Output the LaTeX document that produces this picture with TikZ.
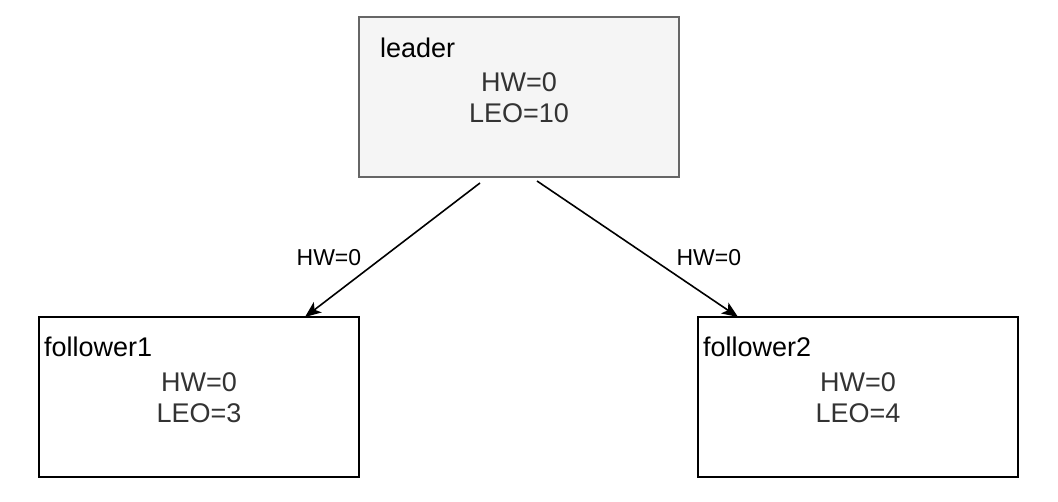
\documentclass[tikz,border=0pt]{standalone}
\usepackage{fontspec}
\setmainfont{Liberation Sans}
\usepackage{xcolor}
\usepackage{tikz}
\usetikzlibrary{arrows.meta,positioning}

\definecolor{leaderfill}{HTML}{F5F5F5}
\definecolor{leaderline}{HTML}{666666}
\definecolor{valtext}{HTML}{333333}

\begin{document}
\begin{tikzpicture}[
    x=1pt, y=-1pt,
    box/.style={draw, line width=2pt, outer sep=0pt, minimum width=320pt, minimum height=160pt},
    boxname/.style={anchor=base west, inner sep=0pt, font=\fontsize{27}{32}\selectfont},
    val/.style={anchor=base, inner sep=0pt, text=valtext, font=\fontsize{27}{32}\selectfont},
    edgelbl/.style={inner sep=0pt, font=\fontsize{23}{28}\selectfont},
    arr/.style={-{Stealth[length=16pt, width=13pt, inset=4pt]}, line width=1.6pt}
]
\useasboundingbox (0,0) rectangle (1058,502);

\node[box, fill=leaderfill, draw=leaderline] (leader) at (519,97) {};
\node[box, below left=140pt and 0pt of leader] (follower1) {};
\node[box, below right=140pt and 19pt of leader] (follower2) {};

\node[boxname] (leadername) at ([xshift=21pt, yshift=-41pt]leader.north west) {leader};
\node[val] (leaderhw) at ([yshift=-75pt]leader.north) {HW=0};
\node[val] (leaderleo) at ([yshift=-106pt]leader.north) {LEO=10};

\node[boxname] (f1name) at ([xshift=5pt, yshift=-40pt]follower1.north west) {follower1};
\node[val] (f1hw) at ([yshift=-75pt]follower1.north) {HW=0};
\node[val] (f1leo) at ([yshift=-106pt]follower1.north) {LEO=3};

\node[boxname] (f2name) at ([xshift=5pt, yshift=-40pt]follower2.north west) {follower2};
\node[val] (f2hw) at ([yshift=-75pt]follower2.north) {HW=0};
\node[val] (f2leo) at ([yshift=-106pt]follower2.north) {LEO=4};

\coordinate (l1) at ([xshift=-39pt, yshift=-6pt]leader.south);
\coordinate (l2) at ([xshift=18pt, yshift=-4pt]leader.south);

\draw[arr] (l1) -- ([xshift=-54pt]follower1.north east)
    node[edgelbl, pos=0.56, anchor=east, xshift=-20pt] (hw1) {HW=0};
\draw[arr] (l2) -- ([xshift=40pt]follower2.north west)
    node[edgelbl, pos=0.566, anchor=west, xshift=25pt] (hw2) {HW=0};
\end{tikzpicture}
\end{document}
